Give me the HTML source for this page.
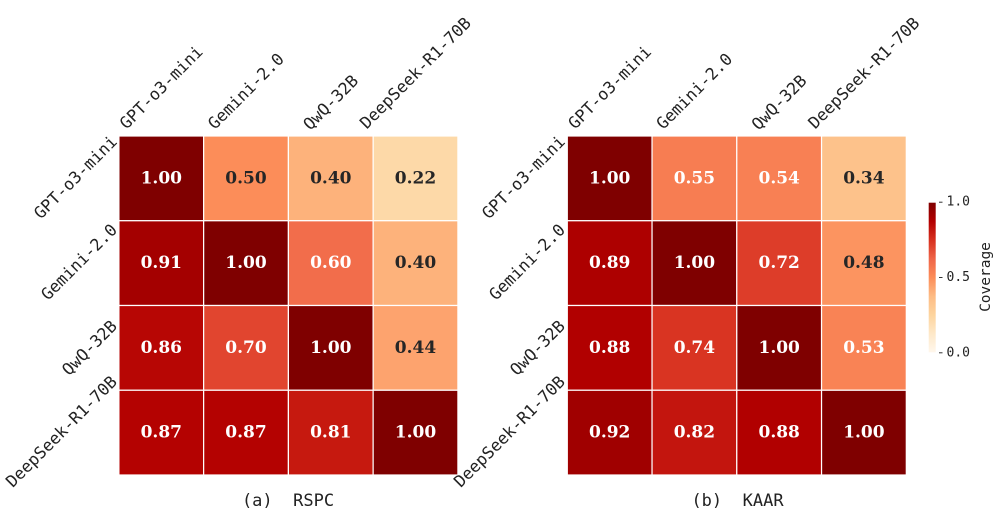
<!DOCTYPE html>
<html>
<head>
<meta charset="utf-8">
<style>
html,body{margin:0;padding:0;background:#fff;}
svg{display:block;}
.tk{font-family:"DejaVu Sans Mono","Liberation Mono",monospace;font-size:16.5px;fill:#222;}
.an{font-family:"DejaVu Serif","Liberation Serif",serif;font-size:17px;font-weight:bold;}
.ti{font-family:"DejaVu Sans Mono","Liberation Mono",monospace;font-size:17px;fill:#222;}
.cb{font-family:"DejaVu Sans Mono","Liberation Mono",monospace;font-size:13px;fill:#222;}
</style>
</head>
<body>
<svg width="998" height="514" viewBox="0 0 998 514" xmlns="http://www.w3.org/2000/svg">
<defs>
<linearGradient id="orrd" x1="0" y1="1" x2="0" y2="0">
<stop offset="0" stop-color="#fff7ec"/>
<stop offset="0.125" stop-color="#fee8c8"/>
<stop offset="0.25" stop-color="#fdd49e"/>
<stop offset="0.375" stop-color="#fdbb84"/>
<stop offset="0.5" stop-color="#fc8d59"/>
<stop offset="0.625" stop-color="#ef6548"/>
<stop offset="0.75" stop-color="#d7301f"/>
<stop offset="0.875" stop-color="#b30000"/>
<stop offset="1" stop-color="#7f0000"/>
</linearGradient>
</defs>

<!-- LEFT HEATMAP (RSPC) -->
<g stroke="#ffffff" stroke-width="1.2">
<rect x="118.9" y="136" width="84.75" height="84.75" fill="#7f0000"/>
<rect x="203.65" y="136" width="84.75" height="84.75" fill="#fc8d59"/>
<rect x="288.4" y="136" width="84.75" height="84.75" fill="#fdb27b"/>
<rect x="373.15" y="136" width="84.75" height="84.75" fill="#fdd9a8"/>

<rect x="118.9" y="220.75" width="84.75" height="84.75" fill="#a40000"/>
<rect x="203.65" y="220.75" width="84.75" height="84.75" fill="#7f0000"/>
<rect x="288.4" y="220.75" width="84.75" height="84.75" fill="#f26d4b"/>
<rect x="373.15" y="220.75" width="84.75" height="84.75" fill="#fdb27b"/>

<rect x="118.9" y="305.5" width="84.75" height="84.75" fill="#b70604"/>
<rect x="203.65" y="305.5" width="84.75" height="84.75" fill="#e1452f"/>
<rect x="288.4" y="305.5" width="84.75" height="84.75" fill="#7f0000"/>
<rect x="373.15" y="305.5" width="84.75" height="84.75" fill="#fda36e"/>

<rect x="118.9" y="390.25" width="84.75" height="84.75" fill="#b40201"/>
<rect x="203.65" y="390.25" width="84.75" height="84.75" fill="#b40201"/>
<rect x="288.4" y="390.25" width="84.75" height="84.75" fill="#c6190f"/>
<rect x="373.15" y="390.25" width="84.75" height="84.75" fill="#7f0000"/>
</g>
<g class="an" text-anchor="middle">
<text x="161.3" y="183.4" fill="#fff">1.00</text>
<text x="246.0" y="183.4" fill="#262626">0.50</text>
<text x="330.8" y="183.4" fill="#262626">0.40</text>
<text x="415.5" y="183.4" fill="#262626">0.22</text>

<text x="161.3" y="268.1" fill="#fff">0.91</text>
<text x="246.0" y="268.1" fill="#fff">1.00</text>
<text x="330.8" y="268.1" fill="#fff">0.60</text>
<text x="415.5" y="268.1" fill="#262626">0.40</text>

<text x="161.3" y="352.9" fill="#fff">0.86</text>
<text x="246.0" y="352.9" fill="#fff">0.70</text>
<text x="330.8" y="352.9" fill="#fff">1.00</text>
<text x="415.5" y="352.9" fill="#262626">0.44</text>

<text x="161.3" y="437.6" fill="#fff">0.87</text>
<text x="246.0" y="437.6" fill="#fff">0.87</text>
<text x="330.8" y="437.6" fill="#fff">0.81</text>
<text x="415.5" y="437.6" fill="#fff">1.00</text>
</g>

<!-- left top labels -->
<g class="tk" text-anchor="middle" dominant-baseline="central">
<text transform="translate(161.3,87.5) rotate(-45)">GPT-o3-mini</text>
<text transform="translate(246.0,91.3) rotate(-45)">Gemini-2.0</text>
<text transform="translate(330.8,102.5) rotate(-45)">QwQ-32B</text>
<text transform="translate(415.5,73.0) rotate(-45)">DeepSeek-R1-70B</text>
</g>
<!-- left y labels -->
<g class="tk" text-anchor="middle" dominant-baseline="central">
<text transform="translate(75.5,177.4) rotate(-45)">GPT-o3-mini</text>
<text transform="translate(79.1,262.1) rotate(-45)">Gemini-2.0</text>
<text transform="translate(89.6,347.9) rotate(-45)">QwQ-32B</text>
<text transform="translate(61.5,431.6) rotate(-45)">DeepSeek-R1-70B</text>
</g>
<text class="ti" x="288" y="506" text-anchor="middle">(a)&#160;&#160;RSPC</text>

<!-- RIGHT HEATMAP (KAAR) -->
<g stroke="#ffffff" stroke-width="1.2">
<rect x="567.3" y="136" width="84.75" height="84.75" fill="#7f0000"/>
<rect x="652.05" y="136" width="84.75" height="84.75" fill="#f77d52"/>
<rect x="736.8" y="136" width="84.75" height="84.75" fill="#f88054"/>
<rect x="821.55" y="136" width="84.75" height="84.75" fill="#fdc28b"/>

<rect x="567.3" y="220.75" width="84.75" height="84.75" fill="#ad0000"/>
<rect x="652.05" y="220.75" width="84.75" height="84.75" fill="#7f0000"/>
<rect x="736.8" y="220.75" width="84.75" height="84.75" fill="#dd3d29"/>
<rect x="821.55" y="220.75" width="84.75" height="84.75" fill="#fc9460"/>

<rect x="567.3" y="305.5" width="84.75" height="84.75" fill="#b10000"/>
<rect x="652.05" y="305.5" width="84.75" height="84.75" fill="#d93422"/>
<rect x="736.8" y="305.5" width="84.75" height="84.75" fill="#7f0000"/>
<rect x="821.55" y="305.5" width="84.75" height="84.75" fill="#f98355"/>

<rect x="567.3" y="390.25" width="84.75" height="84.75" fill="#a00000"/>
<rect x="652.05" y="390.25" width="84.75" height="84.75" fill="#c3150e"/>
<rect x="736.8" y="390.25" width="84.75" height="84.75" fill="#b10000"/>
<rect x="821.55" y="390.25" width="84.75" height="84.75" fill="#7f0000"/>
</g>
<g class="an" text-anchor="middle">
<text x="609.7" y="183.4" fill="#fff">1.00</text>
<text x="694.4" y="183.4" fill="#fff">0.55</text>
<text x="779.2" y="183.4" fill="#fff">0.54</text>
<text x="863.9" y="183.4" fill="#262626">0.34</text>

<text x="609.7" y="268.1" fill="#fff">0.89</text>
<text x="694.4" y="268.1" fill="#fff">1.00</text>
<text x="779.2" y="268.1" fill="#fff">0.72</text>
<text x="863.9" y="268.1" fill="#262626">0.48</text>

<text x="609.7" y="352.9" fill="#fff">0.88</text>
<text x="694.4" y="352.9" fill="#fff">0.74</text>
<text x="779.2" y="352.9" fill="#fff">1.00</text>
<text x="863.9" y="352.9" fill="#fff">0.53</text>

<text x="609.7" y="437.6" fill="#fff">0.92</text>
<text x="694.4" y="437.6" fill="#fff">0.82</text>
<text x="779.2" y="437.6" fill="#fff">0.88</text>
<text x="863.9" y="437.6" fill="#fff">1.00</text>
</g>

<!-- right top labels -->
<g class="tk" text-anchor="middle" dominant-baseline="central">
<text transform="translate(609.7,87.5) rotate(-45)">GPT-o3-mini</text>
<text transform="translate(694.4,91.3) rotate(-45)">Gemini-2.0</text>
<text transform="translate(779.2,102.5) rotate(-45)">QwQ-32B</text>
<text transform="translate(863.9,73.0) rotate(-45)">DeepSeek-R1-70B</text>
</g>
<!-- right y labels -->
<g class="tk" text-anchor="middle" dominant-baseline="central">
<text transform="translate(523.5,177.4) rotate(-45)">GPT-o3-mini</text>
<text transform="translate(527.1,262.1) rotate(-45)">Gemini-2.0</text>
<text transform="translate(537.6,347.9) rotate(-45)">QwQ-32B</text>
<text transform="translate(509.5,431.6) rotate(-45)">DeepSeek-R1-70B</text>
</g>
<text class="ti" x="737.5" y="506" text-anchor="middle">(b)&#160;&#160;KAAR</text>

<!-- COLORBAR -->
<rect x="928.7" y="202.7" width="7" height="149.6" fill="url(#orrd)"/>
<g stroke="#333" stroke-width="1">
<line x1="939" y1="202.2" x2="942.5" y2="202.2"/>
<line x1="939" y1="277.5" x2="942.5" y2="277.5"/>
<line x1="939" y1="352.8" x2="942.5" y2="352.8"/>
</g>
<g class="cb" dominant-baseline="central">
<text x="946.5" y="202.2">1.0</text>
<text x="946.5" y="277.5">0.5</text>
<text x="946.5" y="352.8">0.0</text>
</g>
<text transform="translate(986,277) rotate(-90)" text-anchor="middle" dominant-baseline="central" style="font-family:'DejaVu Sans Mono','Liberation Mono',monospace;font-size:14.5px;fill:#222;">Coverage</text>
</svg>
</body>
</html>
